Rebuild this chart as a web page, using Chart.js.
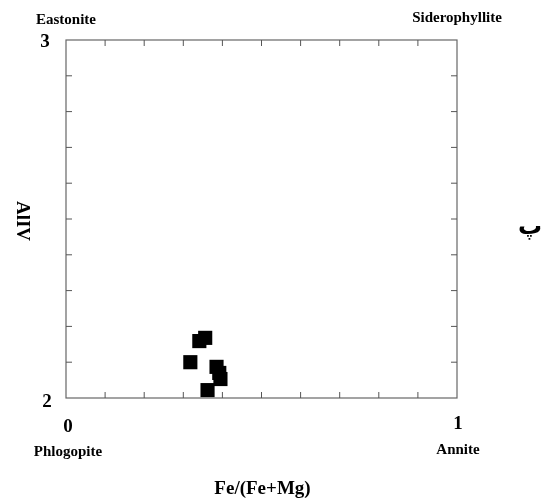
<!DOCTYPE html>
<html>
<head>
<meta charset="utf-8">
<script src="https://cdn.jsdelivr.net/npm/chart.js@4/dist/chart.umd.min.js"></script>
<style>
html,body{margin:0;padding:0;background:#fff;}
#wrap{position:relative;width:549px;height:502px;}
</style>
</head>
<body>
<div id="wrap"><canvas id="c" width="549" height="502"></canvas></div>
<script>
// Data
const feRatio = [0.318, 0.341, 0.356, 0.385, 0.392, 0.395, 0.362];
const alIV    = [2.100, 2.159, 2.168, 2.087, 2.070, 2.053, 2.022];

const xTickLabels = ['0', '1'];
const yTickLabels = ['2', '3'];
const xTitle = 'Fe/(Fe+Mg)';
const yTitle = 'AlIV';
const cornerLabels = ['Eastonite', 'Siderophyllite', 'Phlogopite', 'Annite'];
const sideMark = 'پ';

const points = feRatio.map((v, i) => ({x: v, y: alIV[i]}));

const framePlugin = {
  id: 'frame',
  afterDraw(chart) {
    const {ctx, chartArea: a, scales} = chart;
    const xs = scales.x, ys = scales.y;
    ctx.save();
    // frame
    ctx.strokeStyle = '#666';
    ctx.lineWidth = 1.2;
    ctx.strokeRect(a.left, a.top, a.right - a.left, a.bottom - a.top);
    // inward ticks
    ctx.lineWidth = 1;
    ctx.strokeStyle = '#555';
    const tl = 6;
    for (let i = 1; i < 10; i++) {
      const v = i / 10;
      const px = xs.getPixelForValue(v);
      ctx.beginPath();
      ctx.moveTo(px, a.bottom); ctx.lineTo(px, a.bottom - tl);
      ctx.moveTo(px, a.top); ctx.lineTo(px, a.top + tl);
      ctx.stroke();
      const py = ys.getPixelForValue(2 + v);
      ctx.beginPath();
      ctx.moveTo(a.left, py); ctx.lineTo(a.left + tl, py);
      ctx.moveTo(a.right, py); ctx.lineTo(a.right - tl, py);
      ctx.stroke();
    }
    ctx.fillStyle = '#000';
    ctx.textAlign = 'center';
    ctx.textBaseline = 'middle';
    // tick labels
    ctx.font = 'bold 19px "Liberation Serif", serif';
    ctx.fillText(xTickLabels[0], xs.getPixelForValue(0) + 2, a.bottom + 29);
    ctx.fillText(xTickLabels[1], xs.getPixelForValue(1) + 1, a.bottom + 26);
    ctx.fillText(yTickLabels[0], a.left - 19, ys.getPixelForValue(2) + 4);
    ctx.fillText(yTickLabels[1], a.left - 21, ys.getPixelForValue(3) + 2);
    // corner labels
    ctx.font = 'bold 15px "Liberation Serif", serif';
    ctx.fillText(cornerLabels[0], a.left, a.top - 20);
    ctx.fillText(cornerLabels[1], a.right, a.top - 22);
    ctx.fillText(cornerLabels[2], a.left + 2, a.bottom + 54);
    ctx.fillText(cornerLabels[3], a.right + 1, a.bottom + 52);
    // axis titles
    ctx.font = 'bold 19px "Liberation Serif", serif';
    ctx.fillText(xTitle, (a.left + a.right) / 2 + 1, a.bottom + 91);
    ctx.save();
    ctx.translate(22, 221);
    ctx.rotate(Math.PI / 2);
    ctx.font = 'bold 19px "Liberation Serif", serif';
    ctx.fillText(yTitle, 0, 0);
    ctx.restore();
    // side mark
    ctx.font = 'bold 24px "DejaVu Sans", sans-serif';
    ctx.fillText(sideMark, 530, 228);
    ctx.restore();
  }
};

new Chart(document.getElementById('c'), {
  type: 'scatter',
  data: {
    datasets: [{
      data: points,
      pointStyle: 'rect',
      pointRadius: 10,
      pointHoverRadius: 10,
      backgroundColor: '#000',
      borderColor: '#000',
      borderWidth: 0
    }]
  },
  options: {
    responsive: false,
    animation: false,
    events: [],
    layout: {padding: {left: 66, top: 40, right: 92, bottom: 104}},
    plugins: {legend: {display: false}, tooltip: {enabled: false}},
    scales: {
      x: {type: 'linear', min: 0, max: 1, display: false},
      y: {type: 'linear', min: 2, max: 3, display: false}
    }
  },
  plugins: [framePlugin]
});
</script>
</body>
</html>
